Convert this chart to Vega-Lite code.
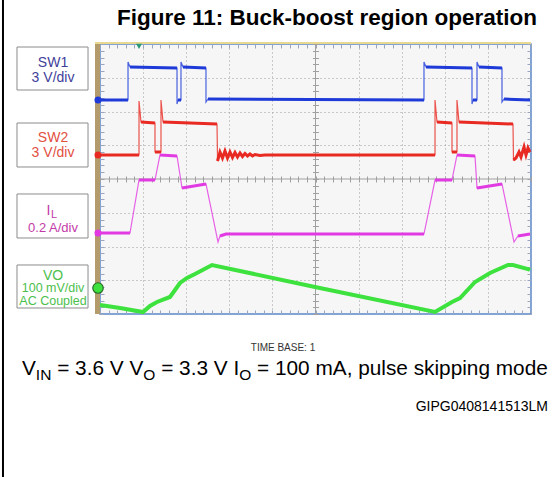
{
  "$schema": "https://vega.github.io/schema/vega-lite/v6.json",
  "width": 431,
  "height": 270,
  "autosize": {"type": "none"},
  "padding": {"left": 100, "top": 44, "right": 26, "bottom": 163},
  "background": "white",
  "config": {
    "view": {"fill": "#f6f6f6", "stroke": "#5a88cc", "strokeWidth": 1.5},
    "font": "Liberation Sans",
    "text": {"font": "Liberation Sans"}
  },
  "data": {"values": [{}]},
  "datasets": {
    "traces": [
      {"c":"SW1","t":0,"v":6.341,"s":1},{"c":"SW1","t":0.650,"v":6.341,"s":1},{"c":"SW1","t":0.650,"v":7.467},{"c":"SW1","t":0.696,"v":7.319,"s":2},{"c":"SW1","t":1.787,"v":7.289,"s":2},{"c":"SW1","t":1.787,"v":6.222},{"c":"SW1","t":1.810,"v":6.341,"s":3},{"c":"SW1","t":1.879,"v":6.341,"s":3},{"c":"SW1","t":1.879,"v":7.467},{"c":"SW1","t":1.926,"v":7.319,"s":4},{"c":"SW1","t":2.459,"v":7.289,"s":4},{"c":"SW1","t":2.459,"v":6.281},{"c":"SW1","t":2.506,"v":6.370,"s":5},{"c":"SW1","t":7.517,"v":6.341,"s":5},{"c":"SW1","t":7.517,"v":7.467},{"c":"SW1","t":7.564,"v":7.319,"s":6},{"c":"SW1","t":8.631,"v":7.289,"s":6},{"c":"SW1","t":8.631,"v":6.222},{"c":"SW1","t":8.654,"v":6.341,"s":7},{"c":"SW1","t":8.747,"v":6.341,"s":7},{"c":"SW1","t":8.747,"v":7.467},{"c":"SW1","t":8.794,"v":7.319,"s":8},{"c":"SW1","t":9.327,"v":7.289,"s":8},{"c":"SW1","t":9.327,"v":6.281},{"c":"SW1","t":9.374,"v":6.370,"s":9},{"c":"SW1","t":9.977,"v":6.341,"s":9},
      {"c":"SW2","t":0,"v":4.711,"s":1},{"c":"SW2","t":0.905,"v":4.711,"s":1},{"c":"SW2","t":0.905,"v":6.311},{"c":"SW2","t":0.951,"v":5.689,"s":2},{"c":"SW2","t":1.276,"v":5.659,"s":2},{"c":"SW2","t":1.276,"v":4.800,"s":3},{"c":"SW2","t":1.415,"v":4.800,"s":3},{"c":"SW2","t":1.415,"v":6.341},{"c":"SW2","t":1.462,"v":5.689,"s":4},{"c":"SW2","t":2.715,"v":5.630,"s":4},{"c":"SW2","t":2.727,"v":4.533,"s":5},{"c":"SW2","t":2.784,"v":4.800,"s":5},{"c":"SW2","t":2.842,"v":4.622,"s":5},{"c":"SW2","t":2.900,"v":4.830,"s":5},{"c":"SW2","t":2.958,"v":4.622,"s":5},{"c":"SW2","t":3.016,"v":4.800,"s":5},{"c":"SW2","t":3.074,"v":4.637,"s":5},{"c":"SW2","t":3.132,"v":4.785,"s":5},{"c":"SW2","t":3.190,"v":4.652,"s":5},{"c":"SW2","t":3.248,"v":4.770,"s":5},{"c":"SW2","t":3.306,"v":4.667,"s":5},{"c":"SW2","t":3.364,"v":4.756,"s":5},{"c":"SW2","t":3.422,"v":4.681,"s":5},{"c":"SW2","t":3.480,"v":4.741,"s":5},{"c":"SW2","t":3.538,"v":4.681,"s":5},{"c":"SW2","t":3.596,"v":4.726,"s":5},{"c":"SW2","t":3.712,"v":4.696,"s":5},{"c":"SW2","t":3.828,"v":4.711,"s":5},{"c":"SW2","t":7.773,"v":4.711,"s":5},{"c":"SW2","t":7.773,"v":6.341},{"c":"SW2","t":7.819,"v":5.689,"s":6},{"c":"SW2","t":8.167,"v":5.659,"s":6},{"c":"SW2","t":8.167,"v":4.800,"s":7},{"c":"SW2","t":8.283,"v":4.800,"s":7},{"c":"SW2","t":8.283,"v":6.341},{"c":"SW2","t":8.329,"v":5.689,"s":8},{"c":"SW2","t":9.582,"v":5.630,"s":8},{"c":"SW2","t":9.594,"v":4.563,"s":9},{"c":"SW2","t":9.652,"v":4.622,"s":9},{"c":"SW2","t":9.722,"v":4.800,"s":9},{"c":"SW2","t":9.768,"v":4.652,"s":9},{"c":"SW2","t":9.838,"v":4.948,"s":9},{"c":"SW2","t":9.884,"v":4.711,"s":9},{"c":"SW2","t":9.930,"v":4.919,"s":9},{"c":"SW2","t":9.977,"v":4.800,"s":9},
      {"c":"IL","t":0,"v":2.400,"s":1},{"c":"IL","t":0.696,"v":2.400,"s":1},{"c":"IL","t":0.905,"v":3.970,"s":2},{"c":"IL","t":1.276,"v":3.970,"s":2},{"c":"IL","t":1.392,"v":4.711,"s":3},{"c":"IL","t":1.787,"v":4.681,"s":3},{"c":"IL","t":1.903,"v":3.733,"s":4},{"c":"IL","t":2.459,"v":3.852,"s":4},{"c":"IL","t":2.738,"v":2.133},{"c":"IL","t":2.784,"v":2.311,"s":5},{"c":"IL","t":2.923,"v":2.370,"s":5},{"c":"IL","t":7.517,"v":2.370,"s":5},{"c":"IL","t":7.773,"v":3.970,"s":6},{"c":"IL","t":8.167,"v":3.970,"s":6},{"c":"IL","t":8.283,"v":4.711,"s":7},{"c":"IL","t":8.701,"v":4.681,"s":7},{"c":"IL","t":8.747,"v":3.733,"s":8},{"c":"IL","t":9.327,"v":3.852,"s":8},{"c":"IL","t":9.606,"v":2.133},{"c":"IL","t":9.698,"v":2.311,"s":9},{"c":"IL","t":9.977,"v":2.370,"s":9},
      {"c":"VO","t":0,"v":0.267},{"c":"VO","t":0.464,"v":0.178},{"c":"VO","t":0.998,"v":0.059},{"c":"VO","t":1.160,"v":0.237},{"c":"VO","t":1.323,"v":0.356},{"c":"VO","t":1.624,"v":0.504},{"c":"VO","t":1.856,"v":0.919},{"c":"VO","t":2.019,"v":1.067},{"c":"VO","t":2.204,"v":1.185},{"c":"VO","t":2.599,"v":1.452},{"c":"VO","t":4.988,"v":0.800},{"c":"VO","t":7.773,"v":0.059},{"c":"VO","t":8.167,"v":0.356},{"c":"VO","t":8.353,"v":0.474},{"c":"VO","t":8.701,"v":0.948},{"c":"VO","t":9.049,"v":1.215},{"c":"VO","t":9.466,"v":1.452},{"c":"VO","t":9.582,"v":1.452},{"c":"VO","t":9.930,"v":1.333},{"c":"VO","t":9.977,"v":1.304}
    ],
    "ground": [{"c":"SW1","v":6.341},{"c":"SW2","v":4.711},{"c":"IL","v":2.4},{"c":"VO","v":0.77}]
  },
  "resolve": {"axis": {"x": "independent", "y": "independent"}},
  "layer": [
    {
      "mark": {"type": "rect", "color": "#b39b6b"},
      "encoding": {
        "x": {"datum": -0.116, "type": "quantitative", "scale": {"domain": [0, 10], "nice": false, "zero": false}, "axis": {"orient": "top", "offset": -4, "tickCount": 50, "tickSize": 4, "tickColor": "#9aa6c0", "labels": false, "domain": false, "grid": false, "title": null}},
        "x2": {"datum": 0},
        "y": {"datum": 0, "type": "quantitative", "scale": {"domain": [0, 8], "nice": false, "zero": false}, "axis": {"orient": "left", "offset": -4, "tickCount": 40, "tickSize": 4, "tickColor": "#9aa6c0", "labels": false, "domain": false, "grid": false, "title": null}},
        "y2": {"datum": 8}
      }
    },
    {
      "mark": {"type": "rule", "color": "#e8d890", "strokeWidth": 2},
      "encoding": {
        "x": {"datum": -0.116, "type": "quantitative", "scale": {"domain": [0, 10], "nice": false, "zero": false}, "axis": {"orient": "bottom", "offset": -4, "tickCount": 50, "tickSize": 4, "tickColor": "#9aa6c0", "labels": false, "domain": false, "grid": false, "title": null}},
        "x2": {"datum": 10},
        "y": {"datum": 8.03, "type": "quantitative", "scale": {"domain": [0, 8], "nice": false, "zero": false}, "axis": {"orient": "right", "offset": -4, "tickCount": 40, "tickSize": 4, "tickColor": "#9aa6c0", "labels": false, "domain": false, "grid": false, "title": null}}
      }
    },
    {
      "mark": {"type": "rule", "color": "#a0a0a0", "strokeWidth": 1},
      "encoding": {
        "x": {"datum": 0, "type": "quantitative", "scale": {"domain": [0, 10], "nice": false, "zero": false}, "axis": {"orient": "bottom", "offset": -138, "tickCount": 50, "tickSize": 6, "tickColor": "#a0a0a0", "labels": false, "domain": false, "grid": false, "title": null}},
        "x2": {"datum": 10},
        "y": {"datum": 4, "type": "quantitative", "scale": {"domain": [0, 8], "nice": false, "zero": false}, "axis": null}
      }
    },
    {
      "mark": {"type": "rule", "color": "#a0a0a0", "strokeWidth": 1},
      "encoding": {
        "x": {"datum": 5, "type": "quantitative", "scale": {"domain": [0, 10], "nice": false, "zero": false}, "axis": null},
        "y": {"datum": 0, "type": "quantitative", "scale": {"domain": [0, 8], "nice": false, "zero": false}, "axis": {"orient": "left", "offset": -218.5, "tickCount": 40, "tickSize": 6, "tickColor": "#a0a0a0", "labels": false, "domain": false, "grid": false, "title": null}},
        "y2": {"datum": 8}
      }
    },
    {
      "data": {"name": "traces"},
      "transform": [{"window": [{"op": "row_number", "as": "i"}]}, {"filter": "datum.c !== 'VO'"}],
      "mark": {"type": "line", "strokeWidth": 1.2, "opacity": 0.8},
      "encoding": {
        "x": {"field": "t", "type": "quantitative", "scale": {"domain": [0, 10], "nice": false, "zero": false}, "axis": {"orient": "bottom", "grid": true, "gridDash": [1, 3], "gridColor": "#9c9c9c", "values": [1, 2, 3, 4, 6, 7, 8, 9], "labels": false, "ticks": false, "domain": false, "title": null}},
        "y": {"field": "v", "type": "quantitative", "scale": {"domain": [0, 8], "nice": false, "zero": false}, "axis": {"orient": "left", "grid": true, "gridDash": [1, 3], "gridColor": "#9c9c9c", "values": [1, 2, 3, 5, 6, 7], "labels": false, "ticks": false, "domain": false, "title": null}},
        "color": {"field": "c", "type": "nominal", "scale": {"domain": ["SW1", "SW2", "IL", "VO"], "range": ["#1e3bd9", "#e82a22", "#e23ae2", "#3ee23e"]}, "legend": null},
        "detail": {"field": "c"},
        "order": {"field": "i", "type": "quantitative"}
      }
    },
    {
      "data": {"name": "traces"},
      "transform": [{"window": [{"op": "row_number", "as": "i"}]}, {"filter": "isValid(datum.s) && datum.c !== 'VO'"}],
      "mark": {"type": "line", "strokeWidth": 3},
      "encoding": {
        "x": {"field": "t", "type": "quantitative", "scale": {"domain": [0, 10], "nice": false, "zero": false}, "axis": null},
        "y": {"field": "v", "type": "quantitative", "scale": {"domain": [0, 8], "nice": false, "zero": false}, "axis": null},
        "color": {"field": "c", "type": "nominal", "legend": null},
        "detail": [{"field": "c"}, {"field": "s"}],
        "order": {"field": "i", "type": "quantitative"}
      }
    },
    {
      "data": {"name": "traces"},
      "transform": [{"window": [{"op": "row_number", "as": "i"}]}, {"filter": "datum.c === 'VO'"}],
      "mark": {"type": "line", "strokeWidth": 4},
      "encoding": {
        "x": {"field": "t", "type": "quantitative", "scale": {"domain": [0, 10], "nice": false, "zero": false}, "axis": null},
        "y": {"field": "v", "type": "quantitative", "scale": {"domain": [0, 8], "nice": false, "zero": false}, "axis": null},
        "color": {"field": "c", "type": "nominal", "legend": null},
        "order": {"field": "i", "type": "quantitative"}
      }
    },
    {
      "data": {"name": "ground"},
      "transform": [{"filter": "datum.c !== 'VO'"}],
      "mark": {"type": "point", "filled": true, "shape": "circle", "size": 50, "opacity": 1},
      "encoding": {
        "x": {"datum": -0.046, "type": "quantitative", "scale": {"domain": [0, 10], "nice": false, "zero": false}, "axis": null},
        "y": {"field": "v", "type": "quantitative", "scale": {"domain": [0, 8], "nice": false, "zero": false}, "axis": null},
        "color": {"field": "c", "type": "nominal", "legend": null}
      }
    },
    {
      "data": {"name": "ground"},
      "transform": [{"filter": "datum.c === 'VO'"}],
      "mark": {"type": "point", "filled": true, "shape": "circle", "size": 110, "opacity": 1, "stroke": "#2a6a2a", "strokeWidth": 1.2},
      "encoding": {
        "x": {"datum": -0.046, "type": "quantitative", "scale": {"domain": [0, 10], "nice": false, "zero": false}, "axis": null},
        "y": {"field": "v", "type": "quantitative", "scale": {"domain": [0, 8], "nice": false, "zero": false}, "axis": null},
        "fill": {"field": "c", "type": "nominal", "scale": {"domain": ["SW1", "SW2", "IL", "VO"], "range": ["#1e3bd9", "#e82a22", "#e23ae2", "#3ee23e"]}, "legend": null}
      }
    },
    {
      "mark": {"type": "point", "filled": true, "shape": "triangle-down", "size": 35, "color": "#2a9a7a", "opacity": 1},
      "encoding": {
        "x": {"datum": 0.905, "type": "quantitative", "scale": {"domain": [0, 10], "nice": false, "zero": false}, "axis": null},
        "y": {"datum": 7.93, "type": "quantitative", "scale": {"domain": [0, 8], "nice": false, "zero": false}, "axis": null}
      }
    },
    {
      "mark": {"type": "rule", "color": "#000000", "strokeWidth": 2},
      "encoding": {
        "x": {"datum": -2.251, "type": "quantitative", "scale": {"domain": [0, 10], "nice": false, "zero": false}, "axis": null},
        "y": {"datum": 9.32, "type": "quantitative", "scale": {"domain": [0, 8], "nice": false, "zero": false}, "axis": null},
        "y2": {"datum": -4.85}
      }
    },
    {
      "mark": {"type": "rect", "fill": "white", "stroke": "#8c8c8c", "strokeWidth": 1},
      "encoding": {
        "x": {"datum": -1.926, "type": "quantitative", "scale": {"domain": [0, 10], "nice": false, "zero": false}, "axis": null},
        "x2": {"datum": -0.278},
        "y": {"datum": 7.911, "type": "quantitative", "scale": {"domain": [0, 8], "nice": false, "zero": false}, "axis": null},
        "y2": {"datum": 6.637}
      }
    },
    {
      "mark": {"type": "rect", "fill": "white", "stroke": "#8c8c8c", "strokeWidth": 1},
      "encoding": {
        "x": {"datum": -1.926, "type": "quantitative", "scale": {"domain": [0, 10], "nice": false, "zero": false}, "axis": null},
        "x2": {"datum": -0.278},
        "y": {"datum": 5.659, "type": "quantitative", "scale": {"domain": [0, 8], "nice": false, "zero": false}, "axis": null},
        "y2": {"datum": 4.356}
      }
    },
    {
      "mark": {"type": "rect", "fill": "white", "stroke": "#8c8c8c", "strokeWidth": 1},
      "encoding": {
        "x": {"datum": -1.926, "type": "quantitative", "scale": {"domain": [0, 10], "nice": false, "zero": false}, "axis": null},
        "x2": {"datum": -0.278},
        "y": {"datum": 3.556, "type": "quantitative", "scale": {"domain": [0, 8], "nice": false, "zero": false}, "axis": null},
        "y2": {"datum": 2.252}
      }
    },
    {
      "mark": {"type": "rect", "fill": "white", "stroke": "#8c8c8c", "strokeWidth": 1},
      "encoding": {
        "x": {"datum": -1.926, "type": "quantitative", "scale": {"domain": [0, 10], "nice": false, "zero": false}, "axis": null},
        "x2": {"datum": -0.278},
        "y": {"datum": 1.452, "type": "quantitative", "scale": {"domain": [0, 8], "nice": false, "zero": false}, "axis": null},
        "y2": {"datum": 0.178}
      }
    },
    {
      "mark": {"type": "text", "fontSize": 14, "color": "#3f3f9a", "align": "center", "baseline": "middle", "lineHeight": 15},
      "encoding": {
        "x": {"datum": -1.09, "type": "quantitative", "scale": {"domain": [0, 10], "nice": false, "zero": false}, "axis": null},
        "y": {"datum": 7.437, "type": "quantitative", "scale": {"domain": [0, 8], "nice": false, "zero": false}, "axis": null},
        "text": {"value": ["SW1", "3 V/div"]}
      }
    },
    {
      "mark": {"type": "text", "fontSize": 14, "color": "#e2503f", "align": "center", "baseline": "middle", "lineHeight": 15},
      "encoding": {
        "x": {"datum": -1.09, "type": "quantitative", "scale": {"domain": [0, 10], "nice": false, "zero": false}, "axis": null},
        "y": {"datum": 5.215, "type": "quantitative", "scale": {"domain": [0, 8], "nice": false, "zero": false}, "axis": null},
        "text": {"value": ["SW2", "3 V/div"]}
      }
    },
    {
      "mark": {"type": "text", "fontSize": 14, "color": "#c23aa8", "align": "center", "baseline": "alphabetic"},
      "encoding": {
        "x": {"datum": -1.197, "type": "quantitative", "scale": {"domain": [0, 10], "nice": false, "zero": false}, "axis": null},
        "y": {"datum": 2.933, "type": "quantitative", "scale": {"domain": [0, 8], "nice": false, "zero": false}, "axis": null},
        "text": {"value": "I"}
      }
    },
    {
      "mark": {"type": "text", "fontSize": 11, "color": "#c23aa8", "align": "left", "baseline": "alphabetic"},
      "encoding": {
        "x": {"datum": -1.137, "type": "quantitative", "scale": {"domain": [0, 10], "nice": false, "zero": false}, "axis": null},
        "y": {"datum": 2.844, "type": "quantitative", "scale": {"domain": [0, 8], "nice": false, "zero": false}, "axis": null},
        "text": {"value": "L"}
      }
    },
    {
      "mark": {"type": "text", "fontSize": 13, "color": "#c23aa8", "align": "center", "baseline": "middle"},
      "encoding": {
        "x": {"datum": -1.09, "type": "quantitative", "scale": {"domain": [0, 10], "nice": false, "zero": false}, "axis": null},
        "y": {"datum": 2.548, "type": "quantitative", "scale": {"domain": [0, 8], "nice": false, "zero": false}, "axis": null},
        "text": {"value": "0.2 A/div"}
      }
    },
    {
      "mark": {"type": "text", "fontSize": 14, "color": "#4cc04c", "align": "center", "baseline": "middle"},
      "encoding": {
        "x": {"datum": -1.09, "type": "quantitative", "scale": {"domain": [0, 10], "nice": false, "zero": false}, "axis": null},
        "y": {"datum": 1.126, "type": "quantitative", "scale": {"domain": [0, 8], "nice": false, "zero": false}, "axis": null},
        "text": {"value": "VO"}
      }
    },
    {
      "mark": {"type": "text", "fontSize": 12.5, "color": "#4cc04c", "align": "center", "baseline": "middle", "lineHeight": 12.5},
      "encoding": {
        "x": {"datum": -1.09, "type": "quantitative", "scale": {"domain": [0, 10], "nice": false, "zero": false}, "axis": null},
        "y": {"datum": 0.756, "type": "quantitative", "scale": {"domain": [0, 8], "nice": false, "zero": false}, "axis": null},
        "text": {"value": ["100 mV/div", "AC Coupled"]}
      }
    },
    {
      "mark": {"type": "text", "fontSize": 22.5, "fontWeight": "bold", "color": "#000000", "align": "center", "baseline": "middle"},
      "encoding": {
        "x": {"datum": 5.267, "type": "quantitative", "scale": {"domain": [0, 10], "nice": false, "zero": false}, "axis": null},
        "y": {"datum": 8.77, "type": "quantitative", "scale": {"domain": [0, 8], "nice": false, "zero": false}, "axis": null},
        "text": {"value": "Figure 11: Buck-boost region operation"}
      }
    },
    {
      "mark": {"type": "text", "fontSize": 10, "color": "#333333", "align": "center", "baseline": "middle"},
      "encoding": {
        "x": {"datum": 4.246, "type": "quantitative", "scale": {"domain": [0, 10], "nice": false, "zero": false}, "axis": null},
        "y": {"datum": -1.007, "type": "quantitative", "scale": {"domain": [0, 8], "nice": false, "zero": false}, "axis": null},
        "text": {"value": "TIME BASE: 1"}
      }
    },
    {
      "mark": {"type": "text", "fontSize": 20.8, "color": "#000000", "align": "left", "baseline": "alphabetic"},
      "encoding": {
        "x": {"datum": -1.810, "type": "quantitative", "scale": {"domain": [0, 10], "nice": false, "zero": false}, "axis": null},
        "y": {"datum": -1.807, "type": "quantitative", "scale": {"domain": [0, 8], "nice": false, "zero": false}, "axis": null},
        "text": {"value": "V"}
      }
    },
    {
      "mark": {"type": "text", "fontSize": 15.5, "color": "#000000", "align": "left", "baseline": "alphabetic"},
      "encoding": {
        "x": {"datum": -1.488, "type": "quantitative", "scale": {"domain": [0, 10], "nice": false, "zero": false}, "axis": null},
        "y": {"datum": -1.956, "type": "quantitative", "scale": {"domain": [0, 8], "nice": false, "zero": false}, "axis": null},
        "text": {"value": "IN"}
      }
    },
    {
      "mark": {"type": "text", "fontSize": 20.8, "color": "#000000", "align": "left", "baseline": "alphabetic"},
      "encoding": {
        "x": {"datum": -0.994, "type": "quantitative", "scale": {"domain": [0, 10], "nice": false, "zero": false}, "axis": null},
        "y": {"datum": -1.807, "type": "quantitative", "scale": {"domain": [0, 8], "nice": false, "zero": false}, "axis": null},
        "text": {"value": "= 3.6 V V"}
      }
    },
    {
      "mark": {"type": "text", "fontSize": 15.5, "color": "#000000", "align": "left", "baseline": "alphabetic"},
      "encoding": {
        "x": {"datum": 1.005, "type": "quantitative", "scale": {"domain": [0, 10], "nice": false, "zero": false}, "axis": null},
        "y": {"datum": -1.956, "type": "quantitative", "scale": {"domain": [0, 8], "nice": false, "zero": false}, "axis": null},
        "text": {"value": "O"}
      }
    },
    {
      "mark": {"type": "text", "fontSize": 20.8, "color": "#000000", "align": "left", "baseline": "alphabetic"},
      "encoding": {
        "x": {"datum": 1.419, "type": "quantitative", "scale": {"domain": [0, 10], "nice": false, "zero": false}, "axis": null},
        "y": {"datum": -1.807, "type": "quantitative", "scale": {"domain": [0, 8], "nice": false, "zero": false}, "axis": null},
        "text": {"value": "= 3.3 V I"}
      }
    },
    {
      "mark": {"type": "text", "fontSize": 15.5, "color": "#000000", "align": "left", "baseline": "alphabetic"},
      "encoding": {
        "x": {"datum": 3.230, "type": "quantitative", "scale": {"domain": [0, 10], "nice": false, "zero": false}, "axis": null},
        "y": {"datum": -1.956, "type": "quantitative", "scale": {"domain": [0, 8], "nice": false, "zero": false}, "axis": null},
        "text": {"value": "O"}
      }
    },
    {
      "mark": {"type": "text", "fontSize": 20.8, "color": "#000000", "align": "left", "baseline": "alphabetic"},
      "encoding": {
        "x": {"datum": 3.644, "type": "quantitative", "scale": {"domain": [0, 10], "nice": false, "zero": false}, "axis": null},
        "y": {"datum": -1.807, "type": "quantitative", "scale": {"domain": [0, 8], "nice": false, "zero": false}, "axis": null},
        "text": {"value": "= 100 mA, pulse skipping mode"}
      }
    },
    {
      "mark": {"type": "text", "fontSize": 14, "color": "#000000", "align": "right", "baseline": "middle"},
      "encoding": {
        "x": {"datum": 10.394, "type": "quantitative", "scale": {"domain": [0, 10], "nice": false, "zero": false}, "axis": null},
        "y": {"datum": -2.756, "type": "quantitative", "scale": {"domain": [0, 8], "nice": false, "zero": false}, "axis": null},
        "text": {"value": "GIPG0408141513LM"}
      }
    }
  ]
}
